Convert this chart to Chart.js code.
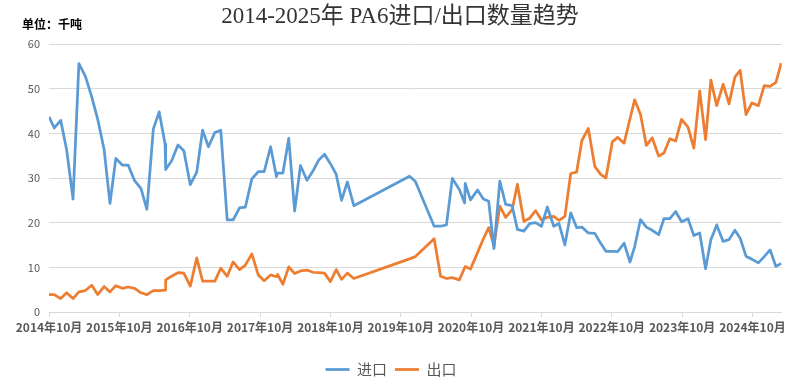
<!DOCTYPE html>
<html>
<head>
<meta charset="utf-8">
<script src="https://cdn.jsdelivr.net/npm/chart.js@4.4.1/dist/chart.umd.min.js"></script>
<style>
  html, body { margin: 0; padding: 0; background: #fff; }
</style>
</head>
<body>
<canvas id="myChart" width="789" height="387"></canvas>
<script>
// x = months since 2014-10
const months = [
  0.0, 0.9, 2.0, 3.0, 4.1, 5.1, 6.2, 7.3, 8.3, 9.4,
  10.4, 11.4, 12.5, 13.5, 14.6, 15.7, 16.7, 17.8, 18.8, 19.8,
  19.9, 20.9, 22.0, 23.0, 24.1, 25.2, 26.2, 27.2, 28.3, 29.3,
  30.4, 31.4, 32.5, 33.5, 34.6, 35.7, 36.7, 37.8, 38.8, 39.0,
  39.9, 40.9, 41.9, 42.9, 44.0, 45.0, 46.0, 47.0, 48.0, 49.0,
  49.9, 50.9, 52.0, 61.5, 62.5, 65.7, 66.8, 67.8, 68.8, 70.0,
  70.9, 71.0, 71.9, 73.1, 74.1, 75.0, 75.9, 76.9, 77.9, 79.0,
  79.9, 81.0, 82.0, 83.0, 84.0, 85.0, 86.1, 87.0, 88.0, 89.0,
  90.0, 90.9, 92.0, 93.1, 94.1, 95.0, 96.1, 97.0, 98.1, 99.1,
  99.9, 100.9, 101.9, 102.9, 104.0, 104.9, 105.9, 106.9, 107.9, 109.0,
  110.0, 111.0, 112.0, 112.9, 113.9, 115.0, 116.0, 117.0, 117.9, 118.9,
  119.9, 121.0, 122.0, 123.0, 124.0, 124.9
];

const importVals = [
  43.7, 41.2, 42.9, 36.4, 25.3, 55.6, 52.8, 48.1, 43.2, 36.4,
  24.3, 34.4, 32.9, 32.9, 29.4, 27.6, 23.0, 41.0, 44.8, 37.6,
  31.9, 33.8, 37.4, 36.1, 28.5, 31.3, 40.7, 37.0, 40.2, 40.7,
  20.6, 20.6, 23.3, 23.5, 29.8, 31.4, 31.4, 37.0, 30.3, 31.1,
  31.1, 38.9, 22.6, 32.8, 29.5, 31.5, 34.0, 35.3, 33.2, 30.8,
  25.0, 29.1, 23.8, 30.4, 29.2, 19.2, 19.2, 19.5, 29.9, 27.4,
  24.4, 28.8, 25.1, 27.3, 25.3, 24.8, 14.2, 29.3, 24.1, 23.8,
  18.5, 18.1, 19.8, 20.0, 19.2, 23.5, 19.2, 19.8, 15.0, 22.2,
  18.9, 19.0, 17.7, 17.6, 15.4, 13.6, 13.6, 13.5, 15.4, 11.2,
  14.6, 20.7, 19.0, 18.3, 17.3, 20.9, 20.9, 22.5, 20.2, 20.9,
  17.1, 17.7, 9.7, 16.2, 19.5, 15.8, 16.2, 18.3, 16.5, 12.5,
  11.8, 11.0, 12.4, 13.9, 10.2, 10.9
];

const exportVals = [
  3.9, 3.9, 3.0, 4.3, 3.0, 4.5, 4.8, 6.0, 3.9, 5.7,
  4.5, 5.9, 5.3, 5.6, 5.3, 4.3, 3.9, 4.8, 4.8, 4.9,
  7.2, 8.0, 8.8, 8.7, 5.8, 12.1, 6.9, 6.9, 6.9, 9.8,
  8.0, 11.2, 9.5, 10.5, 13.0, 8.3, 7.0, 8.3, 7.9, 8.4,
  6.2, 10.1, 8.6, 9.2, 9.4, 8.9, 8.8, 8.7, 6.8, 9.5,
  7.3, 8.7, 7.5, 11.9, 12.4, 16.4, 8.0, 7.5, 7.7, 7.2,
  9.9, 10.2, 9.6, 13.3, 16.4, 18.9, 14.8, 23.7, 21.2, 22.9,
  28.6, 20.3, 21.0, 22.7, 20.6, 21.2, 21.4, 20.5, 21.4, 31.0,
  31.3, 38.4, 41.1, 32.6, 30.8, 30.0, 38.1, 39.1, 37.8, 43.2,
  47.5, 44.2, 37.3, 39.0, 34.9, 35.6, 38.8, 38.3, 43.1, 41.4,
  36.7, 49.5, 38.6, 51.9, 46.2, 51.0, 46.6, 52.6, 54.1, 44.2,
  46.8, 46.2, 50.7, 50.5, 51.4, 55.7
];

const tickMonths = [0, 12, 24, 36, 48, 60, 72, 84, 96, 108, 120];
const tickLabels = [
  '2014年10月', '2015年10月', '2016年10月', '2017年10月', '2018年10月', '2019年10月',
  '2020年10月', '2021年10月', '2022年10月', '2023年10月', '2024年10月'
];
const seriesNames = ['进口', '出口'];

const chartTitle = '2014-2025年 PA6进口/出口数量趋势';
const unitText = '单位：千吨';

const cjk = '"Noto Sans CJK SC", "Noto Sans", sans-serif';

function toPoints(vals) {
  return months.map((m, i) => ({ x: m, y: vals[i] }));
}

// title and the "单位" caption, drawn by hand so the title sits where Excel put it
const headerText = {
  id: 'headerText',
  afterDraw(chart) {
    const ctx = chart.ctx;
    ctx.save();
    ctx.textBaseline = 'middle';
    ctx.fillStyle = '#333';
    ctx.textAlign = 'center';
    ctx.font = '23px "Liberation Serif", "Noto Sans CJK SC", serif';
    ctx.fillText(chartTitle, 400, 17);
    ctx.fillStyle = '#000';
    ctx.textAlign = 'left';
    ctx.font = 'bold 12px ' + cjk;
    ctx.fillText(unitText, 22, 24);
    ctx.restore();
  }
};

const ctx = document.getElementById('myChart').getContext('2d');
let myChart = new Chart(ctx, {
  type: 'line',
  data: {
    datasets: [{
      label: seriesNames[0],
      data: toPoints(importVals),
      borderColor: '#5B9BD5',
      backgroundColor: '#5B9BD5',
      borderWidth: 2.75,
      pointRadius: 0,
      tension: 0,
      borderJoinStyle: 'round'
    }, {
      label: seriesNames[1],
      data: toPoints(exportVals),
      borderColor: '#ED7D31',
      backgroundColor: '#ED7D31',
      borderWidth: 2.75,
      pointRadius: 0,
      tension: 0,
      borderJoinStyle: 'round'
    }]
  },
  options: {
    responsive: false,
    animation: false,
    devicePixelRatio: 1,
    layout: { padding: { left: 0, right: 7, top: 44, bottom: 0 } },
    plugins: {
      title: { display: false },
      legend: {
        position: 'bottom',
        labels: {
          usePointStyle: true,
          pointStyle: 'line',
          pointStyleWidth: 24,
          color: '#595959',
          font: { family: cjk, size: 15 },
          padding: 8
        }
      },
      tooltip: { enabled: false }
    },
    scales: {
      x: {
        type: 'linear',
        min: 0,
        max: 125,
        afterBuildTicks: (scale) => {
          scale.ticks = tickMonths.map(v => ({ value: v }));
        },
        afterFit: (scale) => { scale.height = 42; },
        ticks: {
          autoSkip: false,
          maxRotation: 0,
          padding: 3,
          color: '#595959',
          font: { family: cjk, size: 12, weight: 'bold' },
          callback: (v) => tickLabels[tickMonths.indexOf(v)]
        },
        grid: { drawOnChartArea: false, drawTicks: true, tickLength: 5, color: '#d9d9d9' },
        border: { color: '#d9d9d9' }
      },
      y: {
        min: 0,
        max: 60,
        afterFit: (scale) => { scale.width = 49; },
        ticks: {
          stepSize: 10,
          padding: 9,
          color: '#595959',
          font: { family: cjk, size: 11 }
        },
        grid: { color: '#d9d9d9', drawTicks: false },
        border: { display: false }
      }
    }
  },
  plugins: [headerText]
});
</script>
</body>
</html>
